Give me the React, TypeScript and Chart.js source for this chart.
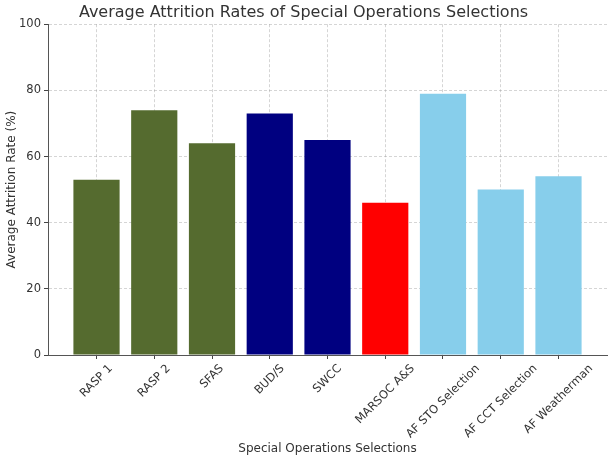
import React, { useEffect, useRef } from "react";
import { Chart, registerables } from "chart.js";

Chart.register(...registerables);

const categories = [
  "RASP 1",
  "RASP 2",
  "SFAS",
  "BUD/S",
  "SWCC",
  "MARSOC A&S",
  "AF STO Selection",
  "AF CCT Selection",
  "AF Weatherman",
];
const attritionRates = [53, 74, 64, 73, 65, 46, 79, 50, 54];
const barColors = [
  "#556B2F",
  "#556B2F",
  "#556B2F",
  "#000080",
  "#000080",
  "#FF0000",
  "#87CEEB",
  "#87CEEB",
  "#87CEEB",
];
const yTicks = [0, 20, 40, 60, 80, 100];

const TEXT = "#333333";
const TICK_FONT_SIZE = 11.5;

const centeredRotatedLabels = {
  id: "centeredRotatedLabels",
  afterDraw(chart: any) {
    const xs = chart.scales.x;
    const ctx = chart.ctx;
    ctx.save();
    ctx.font = `${TICK_FONT_SIZE}px "DejaVu Sans"`;
    ctx.fillStyle = TEXT;
    ctx.textAlign = "center";
    ctx.textBaseline = "middle";
    const top = chart.chartArea.bottom + 7;
    const h = TICK_FONT_SIZE * 1.15;
    categories.forEach((label, i) => {
      const x = xs.getPixelForValue(i);
      const w = ctx.measureText(label).width;
      const H = (w + h) * Math.SQRT1_2;
      ctx.save();
      ctx.translate(x, top + H / 2);
      ctx.rotate(-Math.PI / 4);
      ctx.fillText(label, 0, 0);
      ctx.restore();
    });
    ctx.restore();
  },
};

export default function App() {
  const ref = useRef<HTMLCanvasElement | null>(null);

  useEffect(() => {
    if (!ref.current) return;
    const gridColor = "rgba(150,150,150,0.4)";
    const font = { family: "DejaVu Sans", size: TICK_FONT_SIZE };
    const titleFont = { family: "DejaVu Sans", size: 12 };
    const chart = new Chart(ref.current, {
      type: "bar",
      data: {
        datasets: [
          {
            data: attritionRates.map((v, i) => ({ x: i, y: v })),
            backgroundColor: barColors,
            borderWidth: 0,
            barPercentage: 0.8,
            categoryPercentage: 1,
          },
        ],
      },
      options: {
        animation: false,
        responsive: false,
        maintainAspectRatio: false,
        devicePixelRatio: 1,
        layout: { padding: { left: 0, right: 6, top: 0, bottom: 0 } },
        plugins: {
          legend: { display: false },
          tooltip: { enabled: false },
          title: {
            display: true,
            text: "Average Attrition Rates of Special Operations Selections",
            color: TEXT,
            font: { family: "DejaVu Sans", size: 16, weight: "normal" },
            padding: { top: 3, bottom: 2 },
          },
        },
        scales: {
          x: {
            type: "linear",
            min: -0.84,
            max: 8.84,
            offset: false,
            z: 1,
            afterBuildTicks: (scale: any) => {
              scale.ticks = categories.map((_, i) => ({ value: i }));
            },
            afterFit: (scale: any) => {
              scale.height = 108;
            },
            ticks: {
              display: false,
              includeBounds: false,
              autoSkip: false,
            },
            grid: {
              offset: false,
              color: gridColor,
              tickColor: "#444",
              tickLength: 4,
              tickBorderDash: [],
            } as any,
            border: { color: "#555", width: 1, dash: [3, 2] } as any,
            title: {
              display: true,
              text: "Special Operations Selections",
              color: TEXT,
              font: titleFont,
              padding: { top: 0, bottom: 7 },
            },
          },
          y: {
            min: 0,
            max: 100,
            z: 1,
            afterBuildTicks: (scale: any) => {
              scale.ticks = yTicks.map((v) => ({ value: v }));
            },
            afterFit: (scale: any) => {
              scale.width = 48;
            },
            ticks: {
              color: TEXT,
              font,
              padding: 3,
            },
            grid: {
              color: gridColor,
              tickColor: "#444",
              tickLength: 4,
              tickBorderDash: [],
            } as any,
            border: { color: "#555", width: 1, dash: [3, 2] } as any,
            title: {
              display: true,
              text: "Average Attrition Rate (%)",
              color: TEXT,
              font: titleFont,
              padding: { top: 5, bottom: 0 },
            },
          },
        },
      },
      plugins: [centeredRotatedLabels],
    } as any);
    return () => chart.destroy();
  }, []);

  return (
    <div style={{ position: "fixed", left: 0, top: 0, width: 613, height: 463, background: "#fff" }}>
      <canvas ref={ref} width={613} height={463} style={{ width: 613, height: 463 }} />
    </div>
  );
}
